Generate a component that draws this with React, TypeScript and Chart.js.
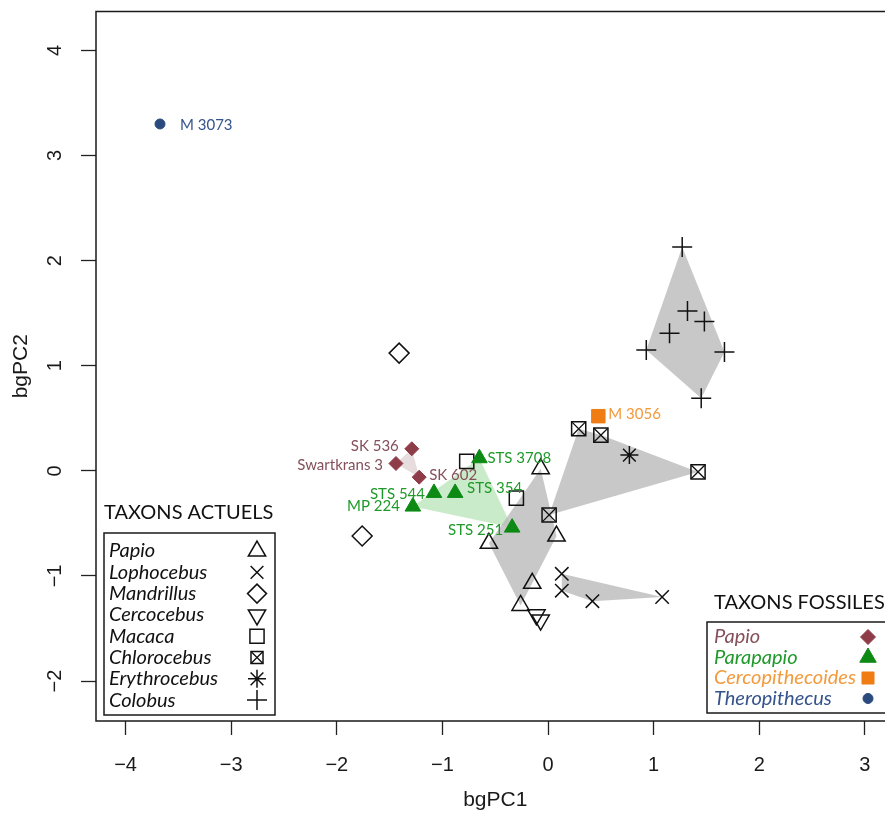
import { useEffect, useRef } from 'react';
import { Chart, registerables } from 'chart.js';
import { drawPoint } from 'chart.js/helpers';

Chart.register(...registerables);

// ---------------- DATA ----------------
const X_TICKS = [-4, -3, -2, -1, 0, 1, 2, 3];
const Y_TICKS = [-2, -1, 0, 1, 2, 3, 4];

// Extant taxa (TAXONS ACTUELS)
const papioX = [-0.07, -0.56, 0.08, -0.15, -0.26];
const papioY = [0.02, -0.69, -0.62, -1.07, -1.28];
const lophocebusX = [0.13, 0.13, 0.42, 1.08];
const lophocebusY = [-0.98, -1.14, -1.24, -1.2];
const mandrillusX = [-1.41, -1.76];
const mandrillusY = [1.12, -0.62];
const cercocebusX = [-0.11, -0.07];
const cercocebusY = [-1.37, -1.42];
const macacaX = [-0.77, -0.3];
const macacaY = [0.09, -0.26];
const chlorocebusX = [0.29, 0.5, 0.01, 1.42];
const chlorocebusY = [0.4, 0.34, -0.42, -0.01];
const erythrocebusX = [0.77];
const erythrocebusY = [0.15];
const colobusX = [1.27, 1.32, 1.48, 1.15, 0.93, 1.67, 1.45];
const colobusY = [2.13, 1.52, 1.42, 1.31, 1.15, 1.13, 0.69];

// Fossil taxa (TAXONS FOSSILES)
const fPapioNames = ['SK 536', 'Swartkrans 3', 'SK 602'];
const fPapioX = [-1.29, -1.44, -1.22];
const fPapioY = [0.21, 0.07, -0.06];
const parapapioNames = ['STS 3708', 'STS 544', 'STS 354', 'MP 224', 'STS 251'];
const parapapioX = [-0.65, -1.08, -0.88, -1.28, -0.34];
const parapapioY = [0.12, -0.21, -0.21, -0.34, -0.54];
const cercopithecoidesNames = ['M 3056'];
const cercopithecoidesX = [0.476];
const cercopithecoidesY = [0.52];
const theropithecusNames = ['M 3073'];
const theropithecusX = [-3.674];
const theropithecusY = [3.3];

const extantLegend = ['Papio', 'Lophocebus', 'Mandrillus', 'Cercocebus', 'Macaca', 'Chlorocebus', 'Erythrocebus', 'Colobus'];
const fossilLegend = ['Papio', 'Parapapio', 'Cercopithecoides', 'Theropithecus'];

// ---------------- STYLE / LAYOUT ----------------
const CW = 906;
const CH = 818;
const X_MIN = -4.28, X_MAX = 3.28, Y_MIN = -2.38, Y_MAX = 4.37;
const AREA = { left: 96, top: 9, right: 895.6, bottom: 721 };

const GRAY = 'rgba(185,185,185,0.78)';
const GREEN_FILL = 'rgba(150,215,150,0.5)';
const PINK_FILL = 'rgba(205,180,182,0.45)';
const C_PAPIO = '#8e3c47';
const C_PAPIO_TXT = '#84505a';
const C_PARA = '#0c8a14';
const C_PARA_TXT = '#1f9a2a';
const C_CERCO = '#f07c14';
const C_CERCO_TXT = '#f29a3c';
const C_THERO = '#2b4a7e';
const C_THERO_TXT = '#35538c';

const LABEL_FONT = '15px Lato';
const LEGEND_FONT = 'italic 20px Lato';
const LEGEND_TITLE_FONT = '20px Lato';

type Marker = { pointStyle: string; radius: number; rotation?: number; fill: string; stroke: string; lw: number };

const M_PAPIO: Marker = { pointStyle: 'triangle', radius: 10, fill: 'rgba(0,0,0,0)', stroke: '#111', lw: 1.5 };
const M_LOPHO: Marker = { pointStyle: 'crossRot', radius: 9.5, fill: 'rgba(0,0,0,0)', stroke: '#111', lw: 1.5 };
const M_MANDR: Marker = { pointStyle: 'rectRot', radius: 10, fill: 'rgba(0,0,0,0)', stroke: '#111', lw: 1.5 };
const M_CERCO: Marker = { pointStyle: 'triangle', radius: 10, rotation: 180, fill: 'rgba(0,0,0,0)', stroke: '#111', lw: 1.5 };
const M_MACACA: Marker = { pointStyle: 'rect', radius: 10, fill: 'rgba(0,0,0,0)', stroke: '#111', lw: 1.5 };
const M_CHLORO_A: Marker = { pointStyle: 'rect', radius: 10, fill: 'rgba(0,0,0,0)', stroke: '#111', lw: 1.5 };
const M_CHLORO_B: Marker = { pointStyle: 'crossRot', radius: 9.8, fill: 'rgba(0,0,0,0)', stroke: '#111', lw: 1.3 };
const M_ERY: Marker = { pointStyle: 'star', radius: 9, fill: 'rgba(0,0,0,0)', stroke: '#111', lw: 1.5 };
const M_COLOBUS: Marker = { pointStyle: 'cross', radius: 10, fill: 'rgba(0,0,0,0)', stroke: '#111', lw: 1.5 };
const M_FPAPIO: Marker = { pointStyle: 'rectRot', radius: 7, fill: C_PAPIO, stroke: C_PAPIO, lw: 1 };
const M_FPARA: Marker = { pointStyle: 'triangle', radius: 9, fill: C_PARA, stroke: C_PARA, lw: 1 };
const M_FCERCO: Marker = { pointStyle: 'rect', radius: 9.5, fill: C_CERCO, stroke: C_CERCO, lw: 1 };
const M_FTHERO: Marker = { pointStyle: 'circle', radius: 5, fill: C_THERO, stroke: C_THERO, lw: 1 };

// label offsets (px) for fossil specimen names: [dx, dy, align]
const fPapioLabelPos: [number, number, CanvasTextAlign][] = [[-13, -3, 'right'], [-13, 2, 'right'], [10, -2, 'left']];
const parapapioLabelPos: [number, number, CanvasTextAlign][] = [[8, 0, 'left'], [-9, 1, 'right'], [12, -5, 'left'], [-13, 0, 'right'], [-9, 3, 'right']];
const cercoLabelPos: [number, number, CanvasTextAlign][] = [[10, -2, 'left']];
const theroLabelPos: [number, number, CanvasTextAlign][] = [[20, 1, 'left']];

// ---------------- HELPERS ----------------
const pts = (xs: number[], ys: number[]) => xs.map((x, i) => ({ x, y: ys[i] }));

function hull(xs: number[], ys: number[]) {
  const p = pts(xs, ys).sort((a, b) => a.x - b.x || a.y - b.y);
  const cross = (o: any, a: any, b: any) => (a.x - o.x) * (b.y - o.y) - (a.y - o.y) * (b.x - o.x);
  const lower: any[] = [];
  for (const q of p) {
    while (lower.length >= 2 && cross(lower[lower.length - 2], lower[lower.length - 1], q) <= 0) lower.pop();
    lower.push(q);
  }
  const upper: any[] = [];
  for (let i = p.length - 1; i >= 0; i--) {
    const q = p[i];
    while (upper.length >= 2 && cross(upper[upper.length - 2], upper[upper.length - 1], q) <= 0) upper.pop();
    upper.push(q);
  }
  upper.pop();
  lower.pop();
  const h = lower.concat(upper);
  h.push(h[0]);
  return h;
}

const hullDs = (xs: number[], ys: number[], color: string) => ({
  data: hull(xs, ys),
  showLine: true,
  fill: 'shape',
  backgroundColor: color,
  borderColor: 'rgba(0,0,0,0)',
  borderWidth: 0,
  pointRadius: 0,
  tension: 0,
});

const pointDs = (xs: number[], ys: number[], m: Marker) => ({
  data: pts(xs, ys),
  showLine: false,
  pointStyle: m.pointStyle,
  pointRadius: m.radius,
  pointRotation: m.rotation || 0,
  pointBackgroundColor: m.fill,
  pointBorderColor: m.stroke,
  pointBorderWidth: m.lw,
});

const fmt = (v: number) => (v < 0 ? '\u2212' + Math.abs(v) : String(v));

function drawMarker(ctx: CanvasRenderingContext2D, m: Marker, x: number, y: number, r?: number) {
  ctx.save();
  ctx.fillStyle = m.fill;
  ctx.strokeStyle = m.stroke;
  ctx.lineWidth = m.lw;
  drawPoint(ctx, { pointStyle: m.pointStyle as any, radius: r ?? m.radius, rotation: m.rotation || 0, borderWidth: m.lw } as any, x, y);
  ctx.restore();
}

// ---------------- PLUGINS ----------------
const boxPlugin = {
  id: 'box',
  afterDatasetsDraw(chart: any) {
    const { ctx, chartArea: a } = chart;
    ctx.save();
    ctx.strokeStyle = '#1a1a1a';
    ctx.lineWidth = 1.5;
    ctx.strokeRect(a.left, a.top, a.right - a.left, a.bottom - a.top);
    ctx.restore();
  },
};

const labelPlugin = {
  id: 'specimenLabels',
  afterDatasetsDraw(chart: any) {
    const { ctx } = chart;
    const sx = chart.scales.x, sy = chart.scales.y;
    const groups: [string[], number[], number[], [number, number, CanvasTextAlign][], string][] = [
      [fPapioNames, fPapioX, fPapioY, fPapioLabelPos, C_PAPIO_TXT],
      [parapapioNames, parapapioX, parapapioY, parapapioLabelPos, C_PARA_TXT],
      [cercopithecoidesNames, cercopithecoidesX, cercopithecoidesY, cercoLabelPos, C_CERCO_TXT],
      [theropithecusNames, theropithecusX, theropithecusY, theroLabelPos, C_THERO_TXT],
    ];
    ctx.save();
    ctx.font = LABEL_FONT;
    ctx.textBaseline = 'middle';
    for (const [names, xs, ys, pos, color] of groups) {
      ctx.fillStyle = color;
      names.forEach((n, i) => {
        const px = sx.getPixelForValue(xs[i]);
        const py = sy.getPixelForValue(ys[i]);
        ctx.textAlign = pos[i][2];
        ctx.fillText(n, px + pos[i][0], py + pos[i][1]);
      });
    }
    ctx.restore();
  },
};

const legendPlugin = {
  id: 'customLegends',
  afterDraw(chart: any) {
    const { ctx } = chart;
    ctx.save();
    // ---- extant legend ----
    ctx.font = LEGEND_TITLE_FONT;
    ctx.fillStyle = '#111';
    ctx.textBaseline = 'middle';
    ctx.textAlign = 'left';
    ctx.fillText('TAXONS ACTUELS', 104, 513);
    ctx.fillStyle = '#fff';
    ctx.fillRect(104, 533, 171, 182);
    ctx.strokeStyle = '#1a1a1a';
    ctx.lineWidth = 1.5;
    ctx.strokeRect(104, 533, 171, 182);
    const extMarkers: [Marker[], number][] = [
      [[M_PAPIO], 10], [[M_LOPHO], 9], [[M_MANDR], 9.5], [[M_CERCO], 10],
      [[M_MACACA], 10], [[M_CHLORO_A, M_CHLORO_B], 8.5], [[M_ERY], 9], [[M_COLOBUS], 10],
    ];
    extantLegend.forEach((name, i) => {
      const y = 551 + i * 21.3;
      ctx.font = LEGEND_FONT;
      ctx.fillStyle = '#111';
      ctx.textAlign = 'left';
      ctx.fillText(name, 109, y);
      for (const m of extMarkers[i][0]) drawMarker(ctx, m, 257, y, extMarkers[i][1]);
    });
    // ---- fossil legend ----
    ctx.font = LEGEND_TITLE_FONT;
    ctx.fillStyle = '#111';
    ctx.textAlign = 'left';
    ctx.fillText('TAXONS FOSSILES', 714, 603);
    ctx.fillStyle = '#fff';
    ctx.fillRect(707, 622, 200, 91);
    ctx.strokeStyle = '#1a1a1a';
    ctx.lineWidth = 1.5;
    ctx.strokeRect(707, 622, 200, 91);
    const fosMarkers: [Marker, number, string][] = [
      [M_FPAPIO, 7.5, C_PAPIO_TXT], [M_FPARA, 9.5, C_PARA_TXT], [M_FCERCO, 8.5, C_CERCO_TXT], [M_FTHERO, 5, C_THERO_TXT],
    ];
    fossilLegend.forEach((name, i) => {
      const y = 637 + i * 20.5;
      ctx.font = LEGEND_FONT;
      ctx.fillStyle = fosMarkers[i][2];
      ctx.textAlign = 'left';
      ctx.fillText(name, 714, y);
      drawMarker(ctx, fosMarkers[i][0], 868, y, fosMarkers[i][1]);
    });
    ctx.restore();
  },
};

// ---------------- COMPONENT ----------------
export default function App() {
  const ref = useRef<HTMLCanvasElement>(null);
  useEffect(() => {
    const datasets: any[] = [
      pointDs(theropithecusX, theropithecusY, M_FTHERO),
      pointDs(cercopithecoidesX, cercopithecoidesY, M_FCERCO),
      pointDs(parapapioX, parapapioY, M_FPARA),
      pointDs(fPapioX, fPapioY, M_FPAPIO),
      pointDs(colobusX, colobusY, M_COLOBUS),
      pointDs(erythrocebusX, erythrocebusY, M_ERY),
      pointDs(chlorocebusX, chlorocebusY, M_CHLORO_B),
      pointDs(chlorocebusX, chlorocebusY, M_CHLORO_A),
      pointDs(macacaX, macacaY, M_MACACA),
      pointDs(cercocebusX, cercocebusY, M_CERCO),
      pointDs(mandrillusX, mandrillusY, M_MANDR),
      pointDs(lophocebusX, lophocebusY, M_LOPHO),
      pointDs(papioX, papioY, M_PAPIO),
      hullDs(fPapioX, fPapioY, PINK_FILL),
      hullDs(papioX, papioY, GRAY),
      hullDs(lophocebusX, lophocebusY, GRAY),
      hullDs(chlorocebusX, chlorocebusY, GRAY),
      hullDs(colobusX, colobusY, GRAY),
      hullDs(parapapioX, parapapioY, GREEN_FILL),
    ];
    const tickFont = { family: 'Liberation Sans', size: 20 };
    const chart = new Chart(ref.current as HTMLCanvasElement, {
      type: 'scatter',
      data: { datasets },
      options: {
        animation: false,
        responsive: false,
        devicePixelRatio: 1,
        events: [],
        layout: { padding: { top: AREA.top, right: CW - AREA.right, left: 0, bottom: 0 } },
        plugins: { legend: { display: false }, tooltip: { enabled: false } },
        scales: {
          x: {
            type: 'linear',
            min: X_MIN,
            max: X_MAX,
            afterBuildTicks: (s: any) => { s.ticks = X_TICKS.map((v) => ({ value: v })); },
            afterFit: (s: any) => { s.height = CH - AREA.bottom; s.paddingLeft = 0; s.paddingRight = 0; },
            border: { display: false },
            grid: { drawOnChartArea: false, drawTicks: true, tickLength: 14, tickColor: '#222', tickWidth: 1.3, color: 'rgba(0,0,0,0)' },
            ticks: { font: tickFont, color: '#1a1a1a', padding: 18, maxRotation: 0, minRotation: 0, callback: (v: any) => fmt(Number(v)) },
            title: { display: true, text: 'bgPC1', font: { family: 'Liberation Sans', size: 21 }, color: '#1a1a1a', padding: { top: 0, bottom: 5 } },
          },
          y: {
            type: 'linear',
            min: Y_MIN,
            max: Y_MAX,
            afterBuildTicks: (s: any) => { s.ticks = Y_TICKS.map((v) => ({ value: v })); },
            afterFit: (s: any) => { s.width = AREA.left; s.paddingTop = 0; s.paddingBottom = 0; },
            border: { display: false },
            grid: { drawOnChartArea: false, drawTicks: true, tickLength: 15, tickColor: '#222', tickWidth: 1.3, color: 'rgba(0,0,0,0)' },
            ticks: { font: tickFont, color: '#1a1a1a', padding: 14, minRotation: 90, maxRotation: 90, crossAlign: 'center', callback: (v: any) => fmt(Number(v)) },
            title: { display: true, text: 'bgPC2', font: { family: 'Liberation Sans', size: 21 }, color: '#1a1a1a', padding: { top: 9, bottom: 0 } },
          },
        },
      } as any,
      plugins: [boxPlugin, labelPlugin, legendPlugin],
    });
    return () => chart.destroy();
  }, []);
  return (
    <div style={{ position: 'fixed', left: 0, top: 0, width: 885, height: 818, overflow: 'hidden', background: '#fff' }}>
      <canvas ref={ref} width={CW} height={CH} style={{ display: 'block', width: CW, height: CH }} />
    </div>
  );
}
